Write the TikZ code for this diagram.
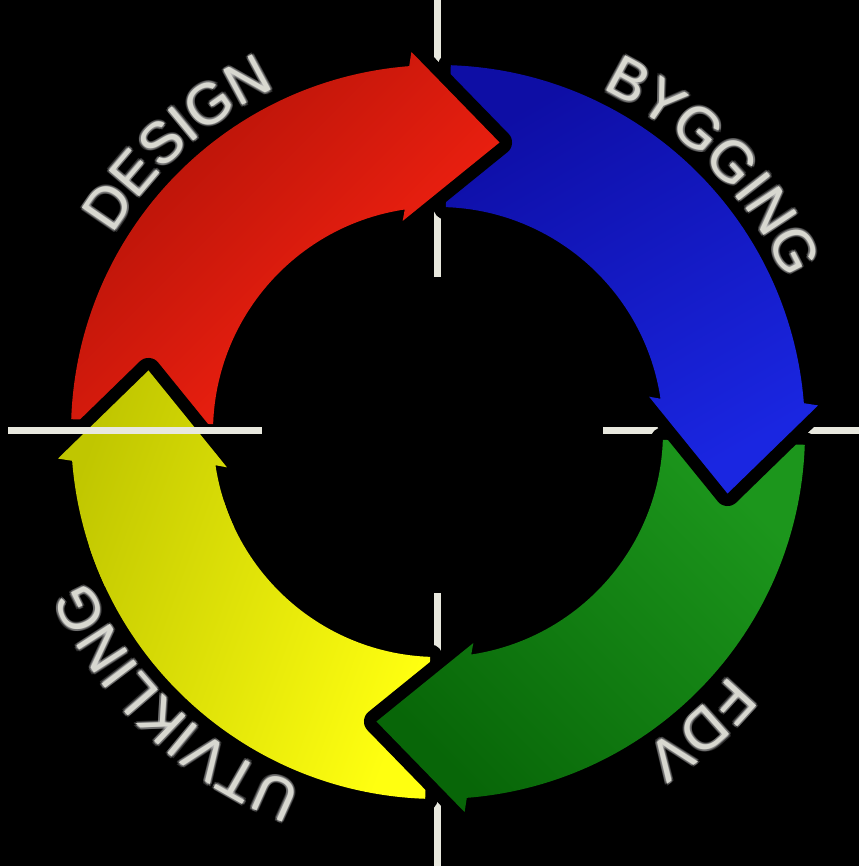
\documentclass[tikz,border=0pt]{standalone}
\usepackage{fontspec}
\newfontfamily\labelfont{Liberation Sans}
\usetikzlibrary{decorations.text}

\definecolor{redA}{RGB}{176,18,8}
\definecolor{redB}{RGB}{255,36,18}
\definecolor{blueA}{RGB}{14,14,165}
\definecolor{blueB}{RGB}{26,38,225}
\definecolor{greenA}{RGB}{28,150,28}
\definecolor{greenB}{RGB}{8,102,8}
\definecolor{yellowA}{RGB}{192,198,0}
\definecolor{yellowB}{RGB}{255,255,16}
\definecolor{crossline}{RGB}{232,232,222}
\definecolor{labelgray}{RGB}{216,216,208}

\newcommand{\labelfmt}{\labelfont\fontsize{33}{33}\selectfont\color{labelgray}}
\newcommand{\glowfmt}{\labelfont\fontsize{33}{33}\selectfont\color{white}}

\tikzset{
  ringarrow/.style={insert path={({#1+88}:367) arc[start angle={#1+88}, end angle={#1+4.5}, radius=367]
      -- ({#1+4}:381) -- ({#1-12}:296) -- ({#1+9.5}:214) -- ({#1+8.5}:225)
      arc[start angle={#1+8.5}, end angle={#1+88}, radius=225] -- cycle}},
  halo/.style={draw=black, line width=0.5cm, line join=round},
  crossbar/.style={draw=crossline, line width=0.14cm},
  ringlabel/.style n args={3}{decorate,
      decoration={text along path, text={|#3|#2}, text align=center},
      insert path={({#1+70}:380) arc[start angle={#1+70}, end angle={#1-70}, radius=380]}}
}

\begin{document}
\begin{tikzpicture}[x=0.02cm, y=0.02cm]
    \fill[black] (0,0) rectangle (859,866);
    \useasboundingbox (0,0) rectangle (859,866);

    \coordinate (c) at (438,434);
    \coordinate (top) at (437.5,866);
    \coordinate (topend) at (437.5,589);
    \coordinate (bottom) at (437.5,0);
    \coordinate (bottomend) at (437.5,273);
    \coordinate (left) at (8,435);
    \coordinate (leftend) at (262,435);
    \coordinate (right) at (859,435);
    \coordinate (rightend) at (603,435);

    \draw[crossbar] (top) -- (topend);
    \draw[crossbar] (bottom) -- (bottomend);
    \draw[crossbar] (right) -- (rightend);

    \begin{scope}[shift={(c)}]
        \foreach \q/\ca/\cb/\ang in {180/yellowA/yellowB/70, -90/greenA/greenB/-45,
                                     0/blueA/blueB/30, 90/redA/redB/45}
            \path[preaction={halo}, top color=\ca, bottom color=\cb, shading angle=\ang, ringarrow=\q];
        % yellow head again, over the red tail
        \begin{scope}
            \clip (0,0) -- (150:460) arc[start angle=150, end angle=198, radius=460] -- cycle;
            \path[halo, ringarrow=180];
        \end{scope}
        \begin{scope}
            \clip (0,0) -- (150:460) arc[start angle=150, end angle=205, radius=460] -- cycle;
            \path[top color=yellowA, bottom color=yellowB, shading angle=70, ringarrow=180];
        \end{scope}
    \end{scope}

    \draw[crossbar] (left) -- (leftend);

    \begin{scope}[shift={(c)}]
        % soft glow round the letters
        \foreach \dx/\dy in {2/0,-2/0,0/2,0/-2,1.5/1.5,-1.5/1.5,1.5/-1.5,-1.5/-1.5} {
            \begin{scope}[shift={(\dx,\dy)}, opacity=0.18]
                \path[ringlabel={132}{DESIGN}{\glowfmt}];
                \path[ringlabel={44}{BYGGING}{\glowfmt}];
                \path[ringlabel={-48.5}{FDV}{\glowfmt}];
                \path[ringlabel={226}{UTVIKLING}{\glowfmt}];
            \end{scope}
        }
        \path[ringlabel={132}{DESIGN}{\labelfmt}];
        \path[ringlabel={44}{BYGGING}{\labelfmt}];
        \path[ringlabel={-48.5}{FDV}{\labelfmt}];
        \path[ringlabel={226}{UTVIKLING}{\labelfmt}];
    \end{scope}
\end{tikzpicture}
\end{document}
